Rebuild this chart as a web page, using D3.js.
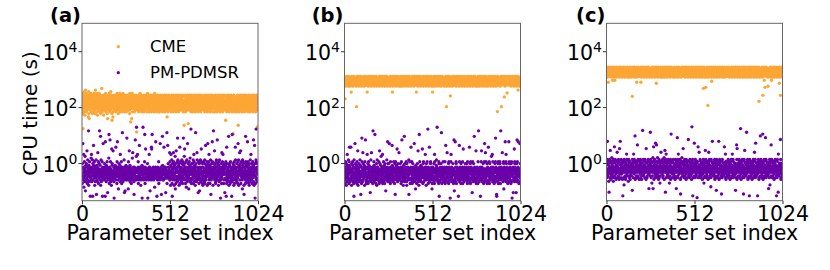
<!DOCTYPE html>
<html>
<head>
<meta charset="utf-8">
<script src="https://cdn.jsdelivr.net/npm/d3@7"></script>
<style>
  body { margin: 0; background: #fff; }
  svg { display: block; }
  text { font-family: "DejaVu Sans", sans-serif; fill: #000; }
</style>
</head>
<body>
<div id="chart"></div>
<script>
// ---- data -------------------------------------------------------------
const panelLabels = ["(a)", "(b)", "(c)"];
const seriesNames = ["CME", "PM-PDMSR"];
const xTicks = [0, 512, 1024];
const yTicks = [1, 100, 10000];

// one character per parameter set (index 0..1023):
// log10(CPU time) = lo + position of the character in codeAlphabet * step
const codeAlphabet = "0123456789abcdefghijklmnopqrstuvwxyzABCDEFGHIJKLMNOPQRSTUVWXYZ";
const cmeCodes = [[-0.15, 0.06], [1.595, 0.035], [1.882, 0.036]];
const pmCodes = [[-2.035, 0.065], [-2.035, 0.065], [-2.02, 0.065]];

const cmeA = [
  "DGzBIwnF AyEHCxJD BvFGzAKE CIxDByFH DzGAEuCJ wBtFEHzA GCyDIBxE zHAFCwGD",
  "ExCGAzID FyBHDwKC zEGAICxB HDvFBzEA CGyEIADx BFzHCwGE AyDLBFxC GzEAHBvD",
  "BFyDzEHC AIGxCDzB FEwBCtGA yDHEzBFI CxGAEDyJ BFzCHAws EGCDuxBF AzHEyCGD",
  "CzFAHDxE GByCEIzA DHFwAGCy EBzDIFxC AGyHCEBD zFDAxGIC BEHyCzAF DxGEBAHz",
  "FBxEzCGD AHyGDBEz CFAyDwIB EGCrzAFH DtBEICxA GFzDHBEC AxCGEFyB DHAzBClE",
  "GzBDEAyF CHxEGBzD AFICyDEB zGHAxCFE BDyGAEzC HFxBDCGA EzyAFHBD CGxEAIzB",
  "AEzGCxDH BFyDAGEz CHBxEFzA DGyCAHBE zFDxGCAI EByHDzGC AFxEBDyG HzCAEFBx",
  "DBxFGzEA HCyEADBz GFAxCHDE BzyGEACF DHxBCzGE AFDyHEBu CzGxADFE ByHCEzGA",
  "EGzCADxB FHyBEGCz ADFxHCBE GzyDAFEC BHxGEDzA CFyBAHGE DzxCEGBF AHyDFCzE",
  "BzFDGAyC EHyCBxDG AzpyGECB DHxAEzCF GByDzAEH CzqFDBGA EHyCAzDF BGxEHCyA",
  "FzDGAxEC HByEDFzA GCxAHEDB zFyCGBEA DHxFAzCG EByDHGAz CFxBEDyH AGzCFEBD",
  "CzGEAyDB FHxDBEzG ACyFGHDE BzxACEFG DHyBzGAC EFxDHCBz GAyEFDBH CxzGAEDF",
  "EzAGDxCB HFyCEBzD AGxFDHCE BzyEAGFC DHxGBzEA CFyADEGB HzxCFBDA EGyHCAzD",
  "GBzDsyEA CFxHEAzG BDyFCGEH AzxBDFCG ADyEHBzC FGxACEDB kzyHDGAE CBxFEAyG",
  "DzEAGxBC FHyBDpCz AExCGFDH BzyGAEDF CHxDBzGA EFyCAHBD GzxEDFAC HByGCEzA",
  "AzGDCxEB HFyEABzD CGxFHDAE BzyCGEFA DHxABzGC EFyDHCAB GzxECADF AHyGoEzC"
];
const cmeB = [
  "CzEAkyDF BxGDHzAC EyBFCGxD AHzEBDyG FCxAGEBr DzyHCAFE BxGEDzCA HyFBEAzD",
  "EAxDGCcB zHyFADEG CBxEzHFA DGyACBzE HFxDEAGC zByGFDAE CHxBzEGD AyFCHDzB",
  "DyFBrGAE CzxHDEBF AGyCEzDH BFxAGDCz EHyBCFAD zGxEADHB CFyDzGEA BHxCFAzD",
  "FzCAEGyD BHxDCFzA EGyBHADC zFxEGBAH CDyAFzEG BHxCDEAF zGyBAHCE DFxEzGBA",
  "AyDGCEzB FHxBAGDE CzyFDHAr EBxGCzFD AHyEBDGC FzxAHCEB DGyFzBAE CHxDGAFz",
  "GzBEDAxC HFyACEBz DGxBFHCA EzyDGABF CHxEAzDG BFyCHDEA GzxBCFAD EHyAGCzB",
  "BxEDFzAG CHyBGEDA zFxCAHBE DGyEzCAF HBrACDGE zFxDBHAC EGyBCzFD AHxEDGBz",
  "EzCGAyDB FHxDBEzA CGyFADEH BzxCGEAF DHyABzGC EFxDHCAB GzyECADF AHxGBEzC",
  "rzGDCxEB HFyEABzD CGxFHDAE BzyCGEFA DHxABzGC EFyDHCAB GzxECADF AHyGDEzC",
  "DzAEGxCB FAyDCHEz AcxBFDCE HzyAEGBD CFxHDzAG nByCGEFA DzxFBHCE GAyDEzBH",
  "CzGBEyAD FHxADCzG EByGHFAC DzxBEGCA HFyDCzBE AGxFEDHC BzyADGEF CHxBzAGD",
  "GyEACzBD HFxBGEAz DCyFHAEB GzxDCBFA EHyAGzDC BFxEDHAG CzyBFEDA HGxCAzBE",
  "AzDFBxGC EHyCDAzB GFxEBHCA DzyGCFEB AHxDEzGC FByAHCDE GzxBFDAC EHyDGBzA",
  "DxBGEzCA FHyACDzE BGxFHEAC DzyBAGCF EHxCDzBG AFyEGHDB CzxDFAEG Ay7HCBzD",
  "ByGDCzEA FBxEAHDG CcyFBGEA DHzBECAF GAmDHxBE CFyAzDHG EBqGCFAD zHyAEDGC",
  "EzCAHyDB GFxDBCzE AHyGEFCB DzxAHBGF CEyDzAHG BFxCEDAz GCtHBFEA DyxGAzCE"
];
const cmeC = [
  "DzBGExCA FHsACDzE BGyFHEAC DzxBAGCF EHyuDzBG AFxEGHDB uzyDFAEG CHxBzAGD",
  "GzEACyBD HFxDBGEz ACyFHDEB GzxACBFE DHyEAzGC BFxHDCAE GzyBCEDF AHxDGEzB",
  "BzEDGxAC FHyACBzD EGxFDHeA CzyEBGDF HAxCDzEB GFyAEDHC szxBFGAD EHyCAzGB",
  "CyFAEzDB sHxDGBEA FzyCAHDG BExFCDzA GHyEBAzC DFxGAEHB CzyDHFEA GBxECzAD",
  "EzACGyBD FHxBDEzG ACyFHDBE GzxADCFB EHryAzGC BFxEDHAC GzyBFCEA DHxAGzBE",
  "AzDGCxEB HFyEABzD CGxFHDAE BzyCGEFA DHxABzGC EFyDHCAB GzxECADF AHyGDEzC",
  "DzAEGxCB FHyDCAEz BGxAFDCE HzyAEGBD CFxHDzAG EByCGDFA DzxFBHCE GAyDEzBH",
  "CzGBEyAD FHxADCzG EByGHFAC DzxBEGCA HFyDCzBE AGxFEDHC BzyADGEF CHxBzAGD",
  "GyEACzBD HFxBGEAz DCyFHAEB GzxDCBFA EHyAGzDC BFxEDHAG CzyBmEDA HGxCAzBE",
  "AznFBxGC EHyCDA5B GFxEBHCA DzyGCFEB AHxDtzGC FByAHCDE GzxBFDAC EHyDGBzA",
  "DxBGEzCA FHyACDzE BGxFHEAC DzyBAGCF EHxCDzBG AFyEGHDB CzxDFAEG AyEHCBzD",
  "ByGDCzEA FHxEAGDB CzyFBGEA DHxBECzF GAyDHzBE CFxAzDHG EByGCFAD zHxAEDGC",
  "EzCAHyDB GFxDBCzE AHyGEFCB DzxAHBGF CEyDzAHG BFxCEDAz GCyHBFEA DxzGAECH",
  "FzCAEGyD BHxDCFzA EGyBHADC zFxEGBAH CDyAFzEG BHxCDEAF zGyBAHC9 DFxEzGBA",
  "AyDGCEzB FHxBAGfE CzyFDHuA EBnGCzFD AHyEBDGC FzxAoCEB DGyFzBAE CHxDGAFz",
  "uzBEDAxC HFyACEBz DGxBFHCA EzyDGABF CHxEAzDG BFyCHrEA GzxBfFAD EHyAGCzB"
];
const pmA = [
  "pkvqsGmo tnAirqwl oszpgmur qlvtnCpk rxmoqsNj uplrwotq dqnsmyrA olrtpxdv",
  "smqFruno wpjtqlsr nqxoeupm rtlqBosw kpsnvrNo qumrKjpx lsoqnwrd tpmGqrns",
  "oqtvmsrd Hpnqrlut qswonfrp mrpqyLsk tnoIrmwl psqjrDou vrnmpCqo qltcrnsp",
  "nruqoEmt sqpkwrHo tmrqhpsv qonrsulA prtmqwok srnMpqlt oqmrsxnf rqpgtosm",
  "uoqnrJsp mtqrphwo qnsCrpmu lrtoqsnk psqrmyoB rnoqtsle qtpmrnIs onrqzPms",
  "rsqAnotw kqrsmpFn oqtrnsjp mrsqpucq snrPoqtm pqrnwLsk tqDrnmsp qornsvpc",
  "nsqrmptA qrotgnsp srqmEDon Lrqnspot pmqrsnoi qsrtnHpo rnpqdsom tqsrnpwk",
  "oqrnsmpG psqtrneo rnqsKupm qsmrnEpt rpsqntof sqnrpoMk qrnFpvot pqrsnoBm",
  "wmrjuqAo tnxpkdsv rqomBwtn jpusqmzh vqkoCrmt snwlJqxo mruvtjqn pEkswrom",
  "qtlnvxrp okswmqJu rnpzvDqt smkqrwoi tpxnrlGq mvsoqhrt wnqpuyml rsOtkpnv",
  "nqvmrtsx kpoAwlrq usnjtMmp vrloqBxn mtqsfrwp oknvgmrt qxsplnDw rmtqovkj",
  "ptrnwmqs lvxkqorF nsmupqtw rjoqGvsk qtwAmpnr ukqsxoet mpvrnqHw sojtrNpq",
  "rvnCmtpu sklowqxr tnmIpvrq oqjsuwlm xrtpnqcs qmvokrBt nwsqApru ktpmvqsf",
  "qsuntwmd pkEvrolq mtsqnKpj vrouqlkt wqnmpsrd olLqtmvn rpsjuqwk ntqmExop",
  "smqrvlpt onkwGtrx jrupsBmq tvqCkorw pmsnqhxu rtwqovje nqpmstrk Kwoquvnl",
  "rtpHmnwo uskqvjrp lqnxotmA srvmpqkt nwoqsuIl qjtpFrvc oksnxOwr mqtvlpns"
];
const pmB = [
  "rmqtkowp snvjqrlu Aoqmstnx prkwuEmq tlrsnEqo mjvqpsrw uqnlotkd xpmqsGnv",
  "qosrlmtu kwnpqCrj osmtvqlp rnxqumoe tpqkrJwo lsmBqvrt nqoupjsw rtIqmolk",
  "moqtAsnp vkqlworu snptqmfr qxolrBns pmtrkqNo nsqwulmr oLqptnsk rmvqjoxt",
  "tqnpmsro wlkrCovn qsumpzrl noqtrAks rpmwqlnu sktovqmr gqnrpsxo mtqHlrvn",
  "pvnqsGmo lqtkwrnp rqmsoFun tplqnrws oqrkmvse nwtqpruo qmDsnlrt vrpoqBms",
  "srqnmvpt okrwqlIs qpntmrjo urqsKolv mnpqtrsw qljvsnrp tonqmrxe psqrwnkm",
  "qrtEnmsp wqkrlvon mtsqpnGr olrqshum pnqtkrso vqmrCnlp sjoLqtwn rmpqusol",
  "nsqrtDpo kqvrwlsn pqromtAs rntjqvmp swoqrOnk tqpmrsEo lrnqvwos pmqtrhkn",
  "qptmsrno vlqkAwrs nrsqmpux tqoPrnsl mprqkwvd sqoltrmp rnvqMosk ptqnrmwl",
  "osrqpntm qwklrFsn mpqtoBrs rsnqlvkw pqtmnroc sqrwAnpl tnorqmsv qpksrIlg",
  "rmqpHnto lwvkqrsn tqoprmsd nrsqFwlp qtmrokvs psnqmrtw kroDqsnl mtqpsrvo",
  "sqrpnmto vqlkwrns optqrsmE qnrlvkws rtpmqsof nqwrsplv mqoKrtsn prsqlCmk",
  "qnmrtspo kwrqNlsn rpoqmtsd qsnwrCpl tmqrposv nqklrwsG pqrmBson wrqlpvks",
  "rtpqsEmo lqwkrvns qmposrtz nrqsAplw ptqmrosk snqvrlwJ qmtroedn psrqlvwk",
  "qsnprmto wvqkrNsn tpmqroBs rnqlswvh qptmrosH nsqwAlvp mqtroskn prsqHlwv",
  "qnrmtspo kqvlwrsc rpomqtfs sqnrDlwv tmqprosf nqvlIswp qmtHrosk prqsGlvn"
];
const pmC = [
  "svrnxqHp owuqslrf tqxvnrCp rsmwqtoy uqpsvnrx lqtwrsEo vrnxsqtp msuqwrBn",
  "trqvsoxn qwmrDusp Hqrvnsxt pusrqmwd rtvnqsjx sqwroutm nvrsqAxp tqousrwl",
  "qxsrtvno wrmsqupt sotrqvgx uqsrnwAt rpxvqsKm tsqnuwro vqrsFtnx osqrutwm",
  "rtsqvxpn uqwsrmot qvNrtsxo sprqutwn xtqsrvmD rsvqnotw qtrxsuph wsqrtvoM",
  "uxqsnrwt kvsotqyh rwEqmtus xnpvrGqo tsuFwqrn pyrqtvom sqxnwrtk uoqsvBrw",
  "qtwrpsxv nroqutsy mvrwCqtf xsqAnrvu tqopwsrx vrsnqtkw osuqxmrv Lrtqsnwp",
  "rwsvqxnt ptqosurm sxvrqnhw tqruJvox nwAqrstp ruqvxsme tsnrwqvy qrpuosDw",
  "vsqrtnwx oqurstpm xrvqswnt srtuIqop wqnsrxvt qsoruvpm tPwsqxdn vqsurtoG",
  "srtqnxvw quopsrtc vwsqrEnt rsqBuotp txnqwrsv oqrsuvmp sqtrxwnk usqrvotC",
  "qrxtsnwv psoqutrm wsvBrtxn uqrsotpi nxtwqrsv Hqsruovp rtsqwxnm vqorsutg",
  "txrqsnvw orqusHpm sqxvwrtn ruqsoetp wnxtrqsv qosruvEp tsqrAnwm vusqrotp",
  "rsqtxwnv psquortm vqwsrxtn uqrsAotp xwntqrsv oqsurvpg srtqnFxm Dqusrvot",
  "qtrsxnwv ousqOtpm wvsqrnxt sruqoetp nxwqCrsv qorsuvpM rtqswxnm uvqsrotd",
  "sxtqrnwv qoursptm swvqrnxt urqsoBtp wxntGqsv osqruvpd trsqxwnm qvusrotK",
  "rqtxswnv pusqoLtm vswqrtxn qrusoJtp xnwtsqrv qosurvph sqtrnxwj uvqsroFt",
  "txqsrnwv oqsurtpm wsvqrxtn rqusodtp nwxtqrsf Aqorsuvp srqtIxnm vusqrotp"
];

// ---- layout -----------------------------------------------------------
const width = 830, height = 270;
const panelLeft = [82, 344.5, 606.5];
const panelTop = 23.3, panelW = 176, panelH = 177.4;
const colors = ["#fca636", "#6a00a8"];
const dotR = 1.65;

function decode(lines, codec) {
  const codes = lines.join("").replace(/\s+/g, "");
  return Array.from(codes, c => Math.pow(10, codec[0] + codeAlphabet.indexOf(c) * codec[1]));
}

const cmeSeries = [cmeA, cmeB, cmeC].map((s, i) => decode(s, cmeCodes[i]));
const pmSeries = [pmA, pmB, pmC].map((s, i) => decode(s, pmCodes[i]));

const svg = d3.select("#chart").append("svg")
  .attr("width", width)
  .attr("height", height);

const x = d3.scaleLinear().domain([0, 1024]).range([0, panelW]);
const y = d3.scaleLog().domain([Math.pow(10, -1.35), 1e5]).range([panelH, 0]);

panelLabels.forEach((label, p) => {
  const g = svg.append("g")
    .attr("transform", `translate(${panelLeft[p]},${panelTop})`);

  g.append("clipPath").attr("id", "clip" + p)
    .append("rect").attr("width", panelW).attr("height", panelH);

  const plot = g.append("g").attr("clip-path", `url(#clip${p})`);

  [cmeSeries[p], pmSeries[p]].forEach((vals, s) => {
    plot.append("g").selectAll("circle")
      .data(vals)
      .join("circle")
      .attr("cx", (d, i) => x(i))
      .attr("cy", d => y(d))
      .attr("r", dotR)
      .attr("fill", colors[s]);
  });

  // frame
  g.append("rect")
    .attr("width", panelW).attr("height", panelH)
    .attr("fill", "none").attr("stroke", "#666").attr("stroke-width", 1);

  // y axis with 10^n labels
  const yAxis = g.append("g")
    .call(d3.axisLeft(y).tickValues(yTicks).tickSize(3.5).tickFormat(""));
  yAxis.select(".domain").remove();
  yAxis.selectAll(".tick line").attr("stroke", "#333");
  yAxis.selectAll(".tick").append("text")
    .attr("x", -4.5)
    .attr("y", 8.3)
    .attr("text-anchor", "end")
    .style("font-size", "20.5px")
    .each(function(d) {
      const t = d3.select(this);
      t.append("tspan").text("10");
      t.append("tspan").attr("dy", -8).style("font-size", "14px")
        .text(Math.round(Math.log10(d)));
    });

  // x axis
  const xAxis = g.append("g")
    .attr("transform", `translate(0,${panelH})`)
    .call(d3.axisBottom(x).tickValues(xTicks).tickSize(3.5).tickPadding(2.6)
      .tickFormat(d3.format("d")));
  xAxis.select(".domain").remove();
  xAxis.selectAll(".tick line").attr("stroke", "#333");
  xAxis.selectAll(".tick text")
    .style("font-size", "20.5px")
    .attr("fill", "#000")
    .style("font-family", "'DejaVu Sans', sans-serif");

  g.append("text")
    .attr("x", panelW / 2)
    .attr("y", 240.5 - panelTop)
    .attr("text-anchor", "middle")
    .style("font-size", "20.5px")
    .text("Parameter set index");

  g.append("text")
    .attr("x", -1)
    .attr("y", 22 - panelTop)
    .attr("text-anchor", "end")
    .style("font-size", "19.5px")
    .style("font-weight", "bold")
    .text(label);
});

// y label
svg.append("text")
  .attr("transform", "translate(36.5,113.5) rotate(-90)")
  .attr("text-anchor", "middle")
  .style("font-size", "20px")
  .text("CPU time (s)");

// legend in panel (a)
const legend = svg.append("g");
seriesNames.forEach((name, s) => {
  const cy = [46.7, 72.7][s];
  legend.append("circle")
    .attr("cx", 118.3).attr("cy", cy).attr("r", dotR)
    .attr("fill", colors[s]);
  legend.append("text")
    .attr("x", 150).attr("y", cy + 5.3)
    .style("font-size", "16.5px")
    .text(name);
});
</script>
</body>
</html>
